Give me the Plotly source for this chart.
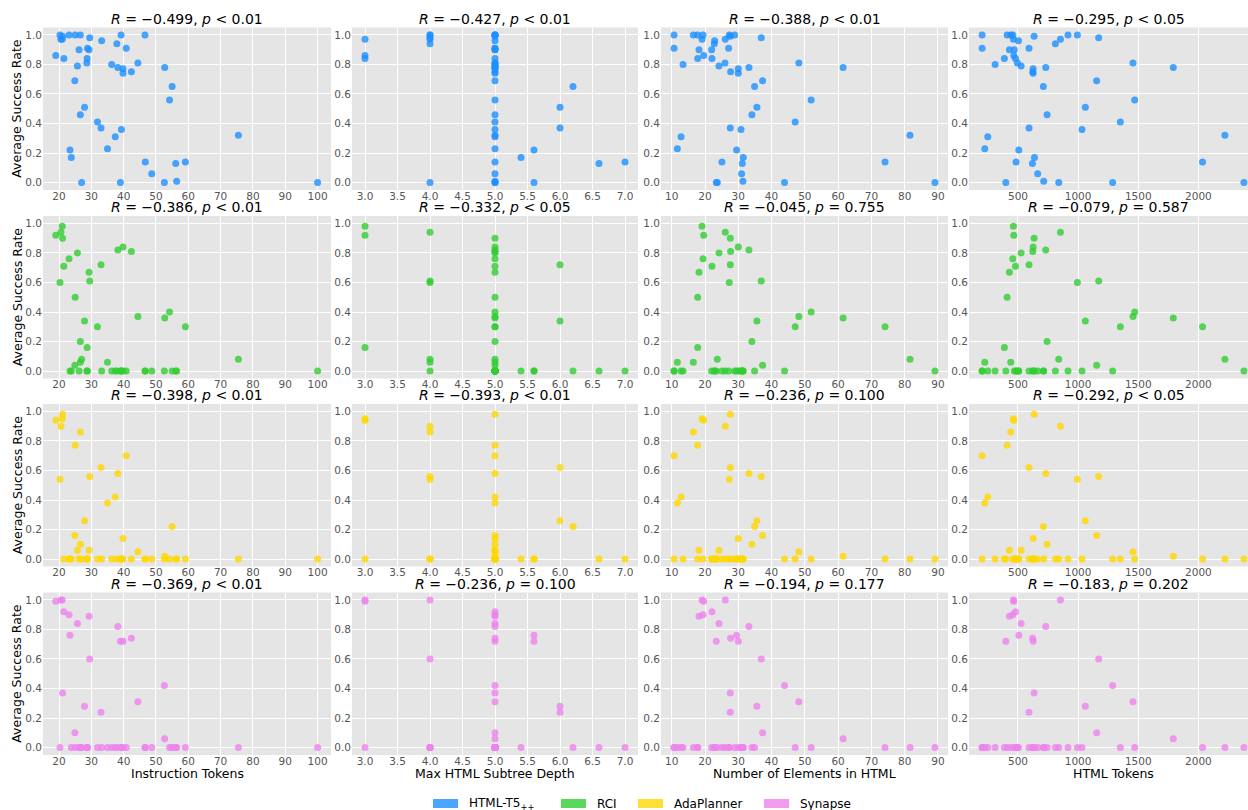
import plotly.graph_objects as go

# ---- data: one entry per task (same task order in every list) ----
instruction_tokens = [19.0, 20.3, 20.6, 21.0, 21.1, 21.5, 23.1, 23.4, 23.8, 24.9,
                      25.0, 25.7, 26.2, 26.6, 26.6, 27.0, 27.9, 28.6, 28.7, 28.8,
                      29.3, 29.5, 31.9, 33.0, 33.2, 35.0, 36.3, 37.4, 37.9, 38.2,
                      39.0, 39.2, 39.3, 39.8, 39.8, 40.8, 42.4, 44.4, 46.6, 46.7,
                      48.7, 52.6, 52.7, 54.2, 55.0, 56.1, 56.4, 59.1, 75.5, 100.0]
max_depth = [3.0, 4.0, 4.0, 3.0, 5.0, 5.0, 5.0, 5.6, 5.4, 5.0,
             5.0, 5.0, 5.0, 5.0, 4.0, 4.0, 6.0, 5.0, 3.0, 5.0,
             5.0, 4.0, 5.0, 6.0, 5.0, 5.0, 5.0, 5.0, 4.0, 5.0,
             5.6, 5.0, 5.0, 5.0, 5.0, 5.0, 5.0, 5.0, 5.0, 7.0,
             5.0, 5.0, 5.0, 5.0, 6.2, 6.6, 5.0, 5.0, 5.0, 5.0]
num_elements = [19.6, 27.3, 26.1, 19.1, 27.6, 22.1, 19.4, 29.5, 31.5, 37.3,
                17.8, 24.2, 22.0, 34.1, 16.5, 23.7, 35.6, 26.0, 17.8, 27.1,
                18.2, 36.9, 47.1, 27.6, 22.9, 11.7, 13.4, 12.8, 22.8, 33.2,
                23.4, 28.9, 30.8, 30.0, 30.0, 10.7, 27.7, 48.2, 10.7, 25.1,
                31.0, 43.9, 61.5, 51.9, 34.9, 31.2, 31.4, 74.1, 81.6, 89.1]
html_tokens = [465, 994, 853, 462, 634, 479, 457, 507, 637, 1154,
               410, 526, 470, 742, 440, 839, 1060, 495, 387, 592,
               429, 1171, 1351, 592, 504, 224, 310, 249, 811, 731,
               399, 916, 1032, 626, 626, 202, 623, 1456, 202, 484,
               664, 1287, 1791, 1470, 711, 620, 714, 2034, 2220, 2378]

html_t5 = [0.86, 1.00, 0.97, 0.97, 0.99, 0.84, 1.00, 0.22, 0.17, 0.69,
           1.00, 0.79, 0.90, 0.46, 1.00, 0.00, 0.51, 0.81, 0.84, 0.91,
           0.90, 0.98, 0.41, 0.37, 0.96, 0.23, 0.80, 0.31, 0.94, 0.78,
           0.00, 1.00, 0.36, 0.77, 0.74, 0.91, 0.75, 0.81, 1.00, 0.14,
           0.06, 0.00, 0.78, 0.56, 0.65, 0.13, 0.01, 0.14, 0.32, 0.00]
rci = [0.92, 0.60, 0.94, 0.98, 0.90, 0.71, 0.76, 0.00, 0.00, 0.04,
       0.50, 0.80, 0.00, 0.20, 0.06, 0.08, 0.34, 0.00, 0.16, 0.00,
       0.67, 0.61, 0.30, 0.72, 0.00, 0.06, 0.00, 0.00, 0.00, 0.82,
       0.00, 0.00, 0.00, 0.84, 0.00, 0.00, 0.81, 0.37, 0.00, 0.00,
       0.00, 0.00, 0.36, 0.40, 0.00, 0.00, 0.00, 0.30, 0.08, 0.00]
adaplanner = [0.94, 0.54, 0.90, 0.95, 0.98, 0.00, 0.00, 0.00, 0.00, 0.16,
              0.77, 0.06, 0.00, 0.10, 0.86, 0.00, 0.26, 0.00, 0.00, 0.00,
              0.06, 0.56, 0.00, 0.62, 0.00, 0.38, 0.00, 0.42, 0.00, 0.58,
              0.00, 0.00, 0.00, 0.14, 0.00, 0.70, 0.00, 0.05, 0.00, 0.00,
              0.00, 0.00, 0.02, 0.00, 0.22, 0.00, 0.00, 0.00, 0.00, 0.00]
synapse = [0.99, 0.00, 1.00, 1.00, 0.37, 0.92, 0.90, 0.76, 0.00, 0.10,
           0.00, 0.84, 0.00, 0.00, 0.00, 0.00, 0.28, 0.00, 0.00, 0.00,
           0.89, 0.60, 0.00, 0.24, 0.00, 0.00, 0.00, 0.00, 0.00, 0.82,
           0.72, 0.00, 0.00, 0.72, 0.00, 0.00, 0.74, 0.31, 0.00, 0.00,
           0.00, 0.42, 0.06, 0.00, 0.00, 0.00, 0.00, 0.00, 0.00, 0.00]

method_names = ["HTML-T5<sub>++</sub>", "RCI", "AdaPlanner", "Synapse"]
feature_names = ["Instruction Tokens", "Max HTML Subtree Depth",
                 "Number of Elements in HTML", "HTML Tokens"]
r_values = [["−0.499", "−0.427", "−0.388", "−0.295"],
            ["−0.386", "−0.332", "−0.045", "−0.079"],
            ["−0.398", "−0.393", "−0.236", "−0.292"],
            ["−0.369", "−0.236", "−0.194", "−0.183"]]
p_labels = [["&lt; 0.01", "&lt; 0.01", "&lt; 0.01", "&lt; 0.05"],
            ["&lt; 0.01", "&lt; 0.05", "= 0.755", "= 0.587"],
            ["&lt; 0.01", "&lt; 0.01", "= 0.100", "&lt; 0.05"],
            ["&lt; 0.01", "= 0.100", "= 0.177", "= 0.202"]]

# ---- styling / layout ----
W, H = 1248, 810
method_values = [html_t5, rci, adaplanner, synapse]
features = [instruction_tokens, max_depth, num_elements, html_tokens]
colors = ["rgba(30,144,255,0.8)", "rgba(50,205,50,0.8)",
          "rgba(255,215,0,0.8)", "rgba(238,130,238,0.8)"]
cols_px = [(43, 331), (352, 638), (661, 948), (969, 1248)]
rows_px = [(27.5, 190), (216, 378.5), (404, 566.5), (592.5, 755)]
x_ranges = [[15.05, 104.15], [2.8, 7.2], [6.78, 93.02], [93, 2412]]
x_ticks = [list(range(20, 101, 10)), [3.0 + 0.5 * i for i in range(9)],
           list(range(10, 91, 10)), [500, 1000, 1500, 2000]]
x_fmt = ["d", ".1f", "d", "d"]

def px(x):
    return x / W

def py(y):
    return 1 - y / H

tick_font = dict(family="DejaVu Sans", size=10.5, color="#555555")
fig = go.Figure()
layout = dict(width=W, height=H, margin=dict(l=0, r=0, t=0, b=0),
              paper_bgcolor="white", plot_bgcolor="#E5E5E5",
              showlegend=False, font=dict(family="DejaVu Sans"))
annotations = []
shapes = []

for r in range(4):
    for c in range(4):
        k = r * 4 + c + 1
        sfx = "" if k == 1 else str(k)
        fig.add_trace(go.Scatter(
            x=features[c], y=method_values[r], mode="markers",
            marker=dict(size=7, color=colors[r], line=dict(width=0)),
            xaxis="x" + sfx, yaxis="y" + sfx, hoverinfo="x+y"))
        x0, x1 = cols_px[c]
        y0, y1 = rows_px[r]
        layout["xaxis" + sfx] = dict(
            domain=[px(x0), px(x1)], range=x_ranges[c], anchor="y" + sfx,
            tickvals=x_ticks[c], tickformat=x_fmt[c], showgrid=True,
            gridcolor="white", gridwidth=1, zeroline=False, showline=False,
            ticks="", ticklabelstandoff=-2, tickfont=tick_font)
        layout["yaxis" + sfx] = dict(
            domain=[py(y1), py(y0)], range=[-0.05, 1.05], anchor="x" + sfx,
            tickvals=[0, 0.2, 0.4, 0.6, 0.8, 1.0], tickformat=".1f",
            showgrid=True, gridcolor="white", gridwidth=1, zeroline=False,
            showline=False, ticks="", tickfont=tick_font)
        annotations.append(dict(
            x=px((x0 + x1) / 2), y=py(y0), xref="paper", yref="paper",
            xanchor="center", yanchor="bottom", showarrow=False, yshift=-1,
            text="<i>R</i> = %s, <i>p</i> %s" % (r_values[r][c], p_labels[r][c]),
            font=dict(family="DejaVu Sans", size=14, color="black")))
    annotations.append(dict(
        x=px(17), y=py(sum(rows_px[r]) / 2), xref="paper", yref="paper",
        xanchor="center", yanchor="middle", showarrow=False, textangle=-90,
        text="Average Success Rate",
        font=dict(family="DejaVu Sans", size=12.5, color="black")))

for c in range(4):
    x0, x1 = cols_px[c]
    if c == 3:
        x1 = 969 + 288
    annotations.append(dict(
        x=px((x0 + x1) / 2), y=py(773), xref="paper", yref="paper",
        xanchor="center", yanchor="middle", showarrow=False,
        text=feature_names[c],
        font=dict(family="DejaVu Sans", size=12.5, color="black")))

legend_px = [433, 561, 638, 764]
for i, name in enumerate(method_names):
    lx = legend_px[i]
    shapes.append(dict(type="rect", xref="paper", yref="paper",
                       x0=px(lx), x1=px(lx + 25), y0=py(808), y1=py(799),
                       fillcolor=colors[i], line=dict(width=0)))
    annotations.append(dict(
        x=px(lx + 34), y=py(803.5), xref="paper", yref="paper",
        xanchor="left", yanchor="middle", showarrow=False, text=name,
        font=dict(family="DejaVu Sans", size=12, color="black")))

layout["annotations"] = annotations
layout["shapes"] = shapes
fig.update_layout(**layout)
fig.write_html("out.html",
               config={"displayModeBar": False},
               post_script="document.body.style.margin='0px';"
                           "document.documentElement.style.overflow='hidden';")
